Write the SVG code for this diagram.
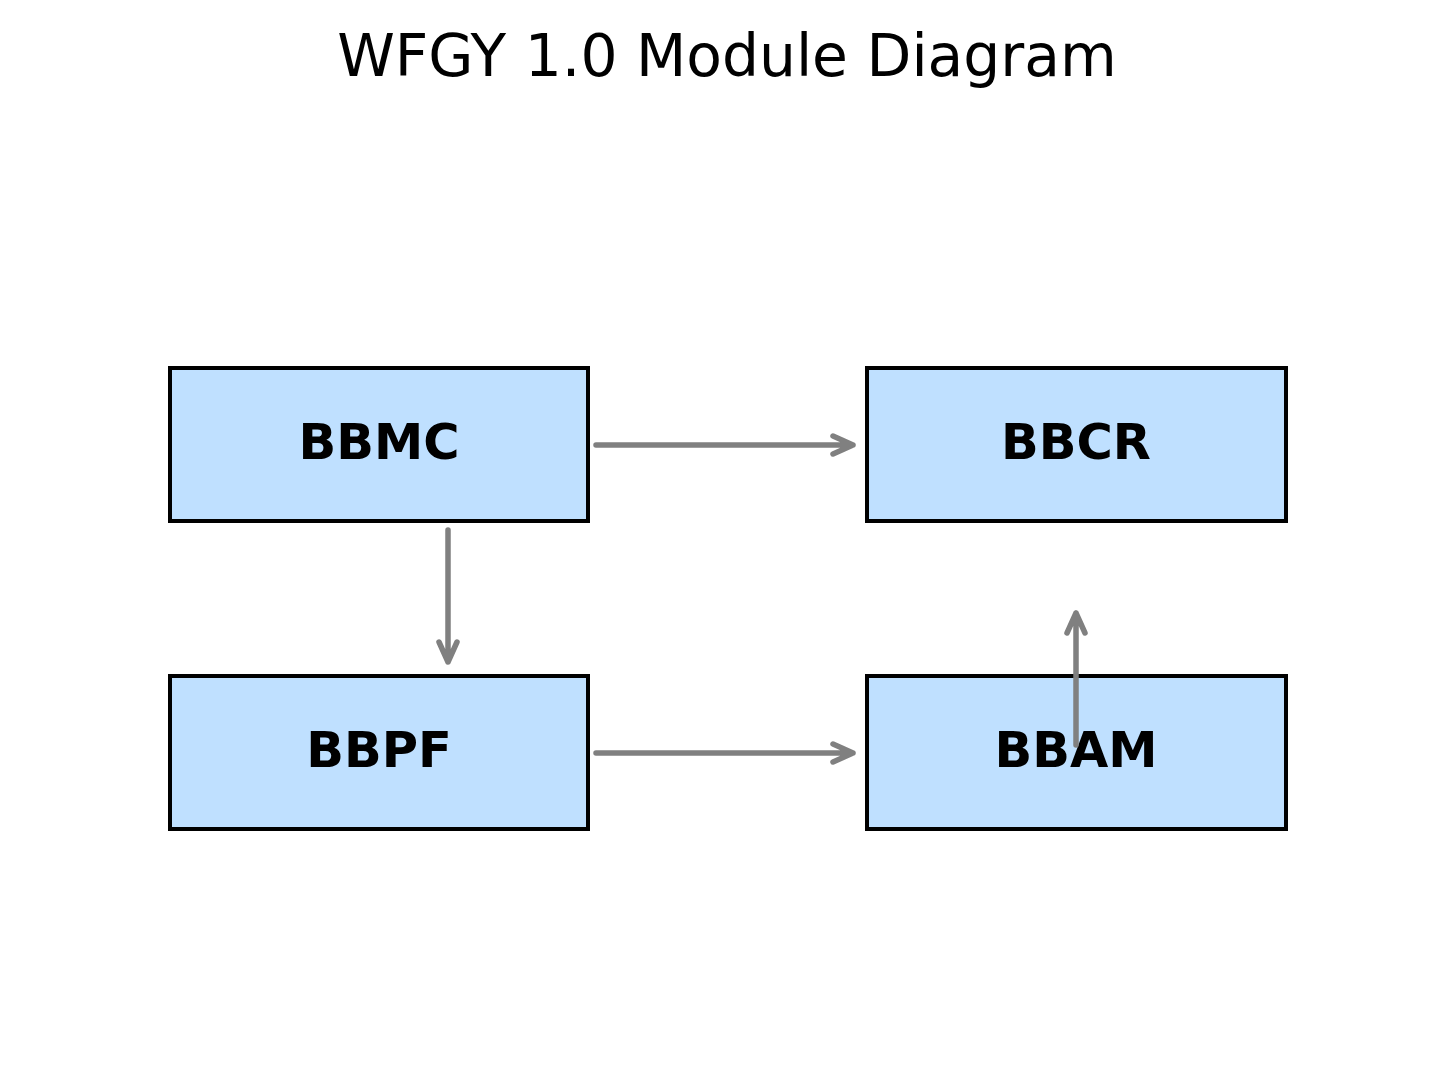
<svg xmlns="http://www.w3.org/2000/svg" width="1455" height="1091" viewBox="0 0 1455 1091">
<style>
.box{fill:#bfe0ff;stroke:#000;stroke-width:4}
.lbl{font-family:"DejaVu Sans",sans-serif;font-weight:bold;font-size:49.5px;text-anchor:middle;fill:#000}
.ttl{font-family:"DejaVu Sans",sans-serif;font-size:58.3px;text-anchor:middle;fill:#000}
.ar{fill:none;stroke:#808080;stroke-width:5.5;stroke-linecap:round;stroke-linejoin:round}
</style>
<rect width="1455" height="1091" fill="#fff"/>
<text class="ttl" x="727" y="76">WFGY 1.0 Module Diagram</text>
<g id="BBMC"><rect class="box" x="170" y="368" width="418" height="153"/><text class="lbl" x="379" y="459">BBMC</text></g>
<g id="BBCR"><rect class="box" x="867" y="368" width="419" height="153"/><text class="lbl" x="1076" y="459">BBCR</text></g>
<g id="BBPF"><rect class="box" x="170" y="676" width="418" height="153"/><text class="lbl" x="379" y="767">BBPF</text></g>
<g id="BBAM"><rect class="box" x="867" y="676" width="419" height="153"/><text class="lbl" x="1076" y="767">BBAM</text></g>
<g id="connectors">
<path class="ar" d="M596 445H853M833 436L853 445L833 454"/>
<path class="ar" d="M448 530V662M439 642L448 662L457 642"/>
<path class="ar" d="M596 753H853M833 744L853 753L833 762"/>
<path class="ar" d="M1076 745V613M1067 633L1076 613L1085 633"/>
</g>
</svg>
